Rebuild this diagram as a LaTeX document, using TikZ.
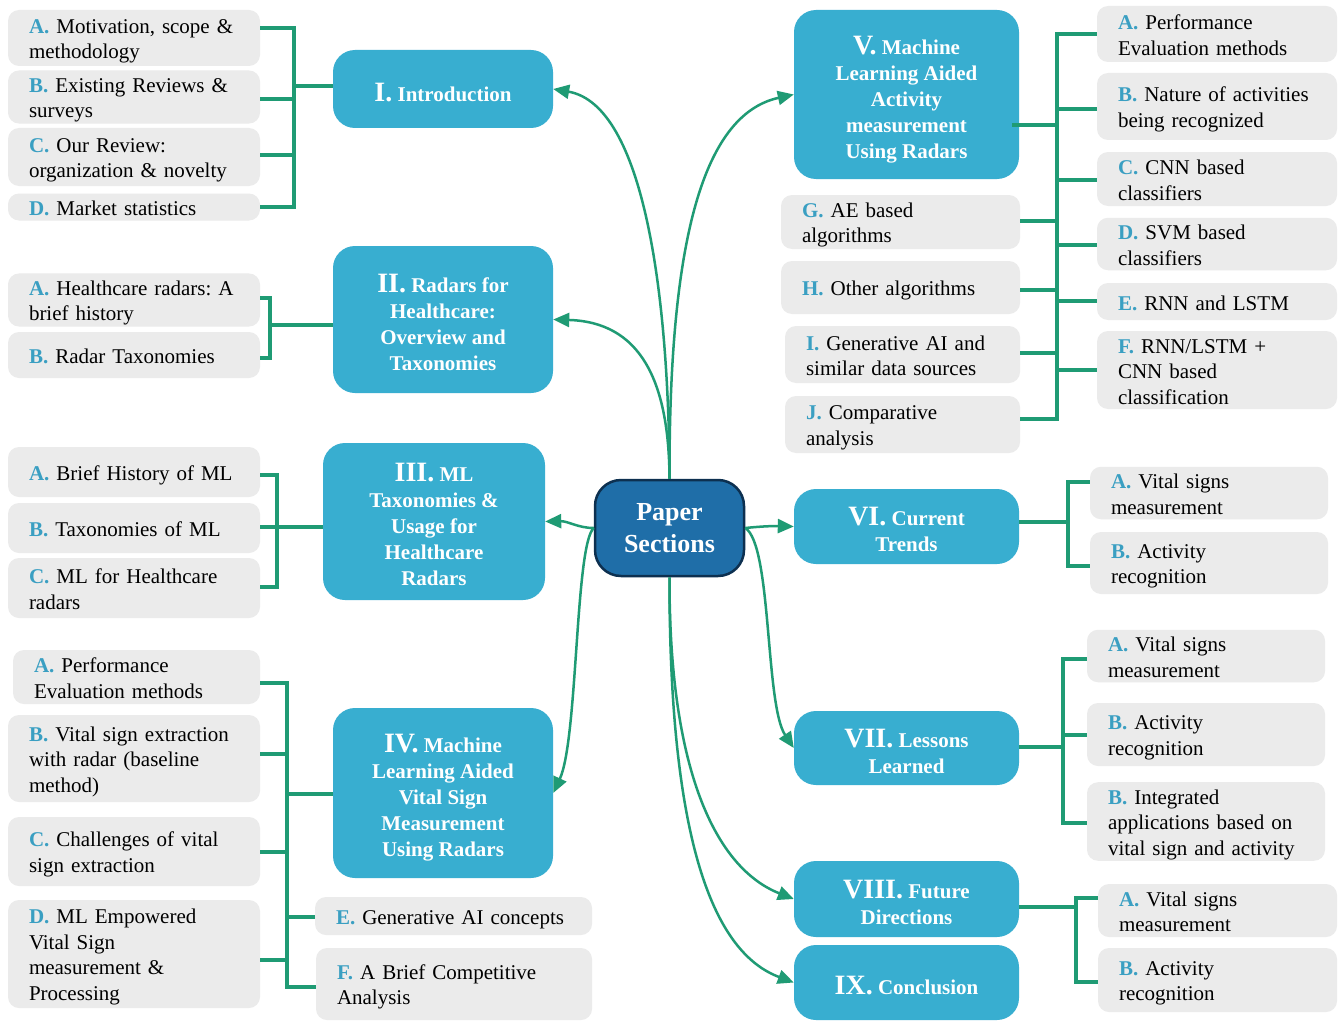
\documentclass[tikz,border=0pt]{standalone}
\usepackage{fontspec}
\setmainfont{Liberation Serif}
\usetikzlibrary{arrows.meta}
\definecolor{gbox}{HTML}{EBEBEB}
\definecolor{bbox}{HTML}{38AED0}
\definecolor{cbox}{HTML}{1F6EA8}
\definecolor{cborder}{HTML}{0D3050}
\definecolor{grn}{HTML}{1F9B74}
\definecolor{lblue}{HTML}{3A9FC2}
\newcommand{\lb}[1]{\textcolor{lblue}{\textbf{#1}}}
\newcommand{\rn}[1]{\rule{0pt}{24.5pt}{\fontsize{28}{26}\selectfont #1}}
\newcommand{\rnd}[1]{\rule{0pt}{28.5pt}{\fontsize{28}{26}\selectfont #1}}
\tikzset{
 gb/.style={fill=gbox, rounded corners=11pt, inner xsep=21pt, inner ysep=1pt, align=left, font=\fontsize{21}{25.5}\selectfont\frenchspacing, anchor=center, execute at begin node={\rule{0pt}{21pt}}, execute at end node={\rule[-4pt]{0pt}{4pt}}},
 bb/.style={fill=bbox, rounded corners=22pt, text=white, align=center, inner sep=2pt, font=\bfseries\fontsize{21}{26}\selectfont\frenchspacing, anchor=center},
 br/.style={draw=grn, line width=3.5pt},
 arr/.style={draw=grn, line width=2.5pt, -{Triangle[length=16pt,width=14pt]}},
}
\begin{document}
\begin{tikzpicture}[x=1pt,y=-1pt]
\useasboundingbox (0,0) rectangle (1338,1022);
\fill[white] (0,0) rectangle (1338,1022);

% ---------- Group I
\node[gb, text width=210pt, minimum height=56pt] (s1a) at (134,38) {\lb{A.} Motivation, scope \&\\methodology};
\node[gb, text width=210pt, minimum height=50pt] (s1b) at (134,97) {\lb{B.} Existing Reviews \&\\surveys};
\node[gb, text width=210pt, minimum height=58pt] (s1c) at (134,157) {\lb{C.} Our Review:\\organization \& novelty};
\node[gb, text width=210pt, minimum height=27pt] (s1d) at (134,207) {\lb{D.} Market statistics};
\node[bb, minimum width=220pt, minimum height=78pt] (s1) at (443,89) {\rn{I.} Introduction};

% ---------- Group II
\node[gb, text width=210pt, minimum height=50pt] (s2a) at (134,300) {\lb{A.} Healthcare radars: A\\brief history};
\node[gb, text width=210pt, minimum height=46pt] (s2b) at (134,355) {\lb{B.} Radar Taxonomies};
\node[bb, minimum width=220pt, minimum height=147pt] (s2) at (443,319.5) {\rn{II.} Radars for\\Healthcare:\\Overview and\\Taxonomies};

% ---------- Group III
\node[gb, text width=210pt, minimum height=50pt] (s3a) at (134,472) {\lb{A.} Brief History of ML};
\node[gb, text width=210pt, minimum height=50pt] (s3b) at (134,528) {\lb{B.} Taxonomies of ML};
\node[gb, text width=210pt, minimum height=60pt] (s3c) at (134,588) {\lb{C.} ML for Healthcare\\radars};
\node[bb, minimum width=222pt, minimum height=157pt] (s3) at (434,521.5) {\rn{III.} ML\\Taxonomies \&\\Usage for\\Healthcare\\Radars};

% ---------- Group IV
\node[gb, text width=205pt, minimum height=54pt] (s4a) at (136.5,677) {\lb{A.} Performance\\Evaluation methods};
\node[gb, text width=210pt, minimum height=87pt] (s4b) at (134,758.5) {\lb{B.} Vital sign extraction\\with radar (baseline\\method)};
\node[gb, text width=210pt, minimum height=69pt] (s4c) at (134,851.5) {\lb{C.} Challenges of vital\\sign extraction};
\node[gb, text width=210pt, minimum height=108pt] (s4d) at (134,954) {\lb{D.} ML Empowered\\Vital Sign\\measurement \&\\Processing};
\node[gb, text width=235pt, minimum height=38pt] (s4e) at (453.5,916) {\lb{E.} Generative AI concepts};
\node[gb, text width=234pt, minimum height=72pt] (s4f) at (454,984) {\lb{F.} A Brief Competitive\\Analysis};
\node[bb, minimum width=220pt, minimum height=170pt] (s4) at (443,793) {\rnd{IV.} Machine\\Learning Aided\\Vital Sign\\Measurement\\Using Radars};

% ---------- Center
\node[fill=cbox, draw=cborder, line width=2.5pt, rounded corners=26pt, minimum width=149pt, minimum height=96pt, text=white, font=\bfseries\fontsize{26}{32}\selectfont, align=center, anchor=center] (ps) at (669.5,528) {Paper\\Sections};

% ---------- Group V
\node[bb, minimum width=225pt, minimum height=169pt] (s5) at (906.5,94.5) {\rnd{V.} Machine\\Learning Aided\\Activity\\measurement\\Using Radars};
\node[gb, text width=198pt, minimum height=56pt] (s5a) at (1217,34) {\lb{A.} Performance\\Evaluation methods};
\node[gb, text width=198pt, minimum height=67pt] (s5b) at (1217,106.5) {\lb{B.} Nature of activities\\being recognized};
\node[gb, text width=198pt, minimum height=54pt] (s5c) at (1217,179) {\lb{C.} CNN based\\classifiers};
\node[gb, text width=198pt, minimum height=52pt] (s5d) at (1217,244) {\lb{D.} SVM based\\classifiers};
\node[gb, text width=198pt, minimum height=37pt] (s5e) at (1217,301.5) {\lb{E.} RNN and LSTM};
\node[gb, text width=198pt, minimum height=76pt] (s5f) at (1217,370) {\lb{F.} RNN/LSTM +\\CNN based\\classification};
\node[gb, text width=197pt, minimum height=54pt] (s5g) at (900.5,222) {\lb{G.} AE based\\algorithms};
\node[gb, text width=197pt, minimum height=53pt] (s5h) at (900.5,287.5) {\lb{H.} Other algorithms};
\node[gb, text width=193pt, minimum height=57pt] (s5i) at (902.5,354.5) {\lb{I.} Generative AI and\\similar data sources};
\node[gb, text width=193pt, minimum height=57pt] (s5j) at (902.5,424.5) {\lb{J.} Comparative\\analysis};

% ---------- Group VI
\node[bb, minimum width=225pt, minimum height=75pt] (s6) at (906.5,526.5) {\rn{VI.} Current\\Trends};
\node[gb, text width=196pt, minimum height=52pt] (s6a) at (1209,493) {\lb{A.} Vital signs\\measurement};
\node[gb, text width=196pt, minimum height=62pt] (s6b) at (1209,563) {\lb{B.} Activity\\recognition};

% ---------- Group VII
\node[bb, minimum width=225pt, minimum height=74pt] (s7) at (906.5,748) {\rn{VII.} Lessons\\Learned};
\node[gb, text width=196pt, minimum height=52pt] (s7a) at (1206,656) {\lb{A.} Vital signs\\measurement};
\node[gb, text width=196pt, minimum height=63pt] (s7b) at (1206,734.5) {\lb{B.} Activity\\recognition};
\node[gb, text width=196pt, minimum height=73pt] (s7c) at (1206,821.5) {\lb{B.} Integrated\\applications based on\\vital sign and activity};

% ---------- Group VIII
\node[bb, minimum width=225pt, minimum height=76pt] (s8) at (906.5,899) {\rn{VIII.} Future\\Directions};
\node[gb, text width=197pt, minimum height=53pt] (s8a) at (1217.5,910.5) {\lb{A.} Vital signs\\measurement};
\node[gb, text width=197pt, minimum height=64pt] (s8b) at (1217.5,980) {\lb{B.} Activity\\recognition};

% ---------- IX
\node[bb, minimum width=225pt, minimum height=75pt] (s9) at (906.5,982.5) {\rn{IX.} Conclusion};

% ---------- Brackets
% I
\draw[br] (s1a.east |- 0,28) -| (294,207) -- (s1d.east |- 0,207);
\draw[br] (s1b.east |- 0,99) -- (294,99);
\draw[br] (s1c.east |- 0,155) -- (294,155);
\draw[br] (s1.west |- 0,86) -- (294,86);
% II
\draw[br] (s2a.east |- 0,298) -| (270,358) -- (s2b.east |- 0,358);
\draw[br] (s2.west |- 0,325) -- (270,325);
% III
\draw[br] (s3a.east |- 0,475) -| (277,587) -- (s3c.east |- 0,587);
\draw[br] (s3b.east |- 0,527) -- (s3.west |- 0,527);
% IV
\draw[br] (s4a.east |- 0,683) -| (287,987) -- (s4f.west |- 0,987);
\draw[br] (s4b.east |- 0,754) -- (287,754);
\draw[br] (s4c.east |- 0,852) -- (287,852);
\draw[br] (s4d.east |- 0,960) -- (287,960);
\draw[br] (s4e.west |- 0,917) -- (287,917);
\draw[br] (s4.west |- 0,794) -- (287,794);
% V
\draw[br] (s5a.west |- 0,34) -| (1057,419) -- (s5j.east |- 0,419);
\draw[br] (s5b.west |- 0,109) -- (1057,109);
\draw[br] (s5c.west |- 0,180) -- (1057,180);
\draw[br] (s5d.west |- 0,245) -- (1057,245);
\draw[br] (s5e.west |- 0,301) -- (1057,301);
\draw[br] (s5f.west |- 0,370) -- (1057,370);
\draw[br] (s5g.east |- 0,221) -- (1057,221);
\draw[br] (s5h.east |- 0,290) -- (1057,290);
\draw[br] (s5i.east |- 0,353) -- (1057,353);
\draw[br] ([xshift=-7pt]s5.east |- 0,125) -- (1057,125);
% VI
\draw[br] (s6a.west |- 0,482) -| (1068,566) -- (s6b.west |- 0,566);
\draw[br] (s6.east |- 0,522) -- (1068,522);
% VII
\draw[br] (s7a.west |- 0,659) -| (1063,823) -- (s7c.west |- 0,823);
\draw[br] (s7b.west |- 0,735) -- (1063,735);
\draw[br] (s7.east |- 0,747) -- (1063,747);
% VIII
\draw[br] (s8a.west |- 0,898) -| (1076,982) -- (s8b.west |- 0,982);
\draw[br] (s8.east |- 0,907) -- (1076,907);

% ---------- Arrows
\draw[arr] (ps.north) .. controls (669,300) and (645,105) .. (s1.east);
\draw[arr] (ps.north) .. controls (669,380) and (640,322) .. (s2.east);
\draw[arr] (ps.north) .. controls (669,250) and (700,115) .. (s5.west);
\draw[arr] (ps.west) .. controls (578,528) and (568,521) .. (s3.east);
\draw[arr] (ps.west) .. controls (575,545) and (578,740) .. (s4.east);
\draw[arr] (ps.east) .. controls (765,526) and (775,526) .. (s6.west);
\draw[arr] (ps.east) .. controls (772,545) and (765,705) .. (s7.west);
\draw[arr] (ps.south) .. controls (669,780) and (720,870) .. (s8.west);
\draw[arr] (ps.south) .. controls (669,860) and (720,955) .. (s9.west);
\end{tikzpicture}
\end{document}
